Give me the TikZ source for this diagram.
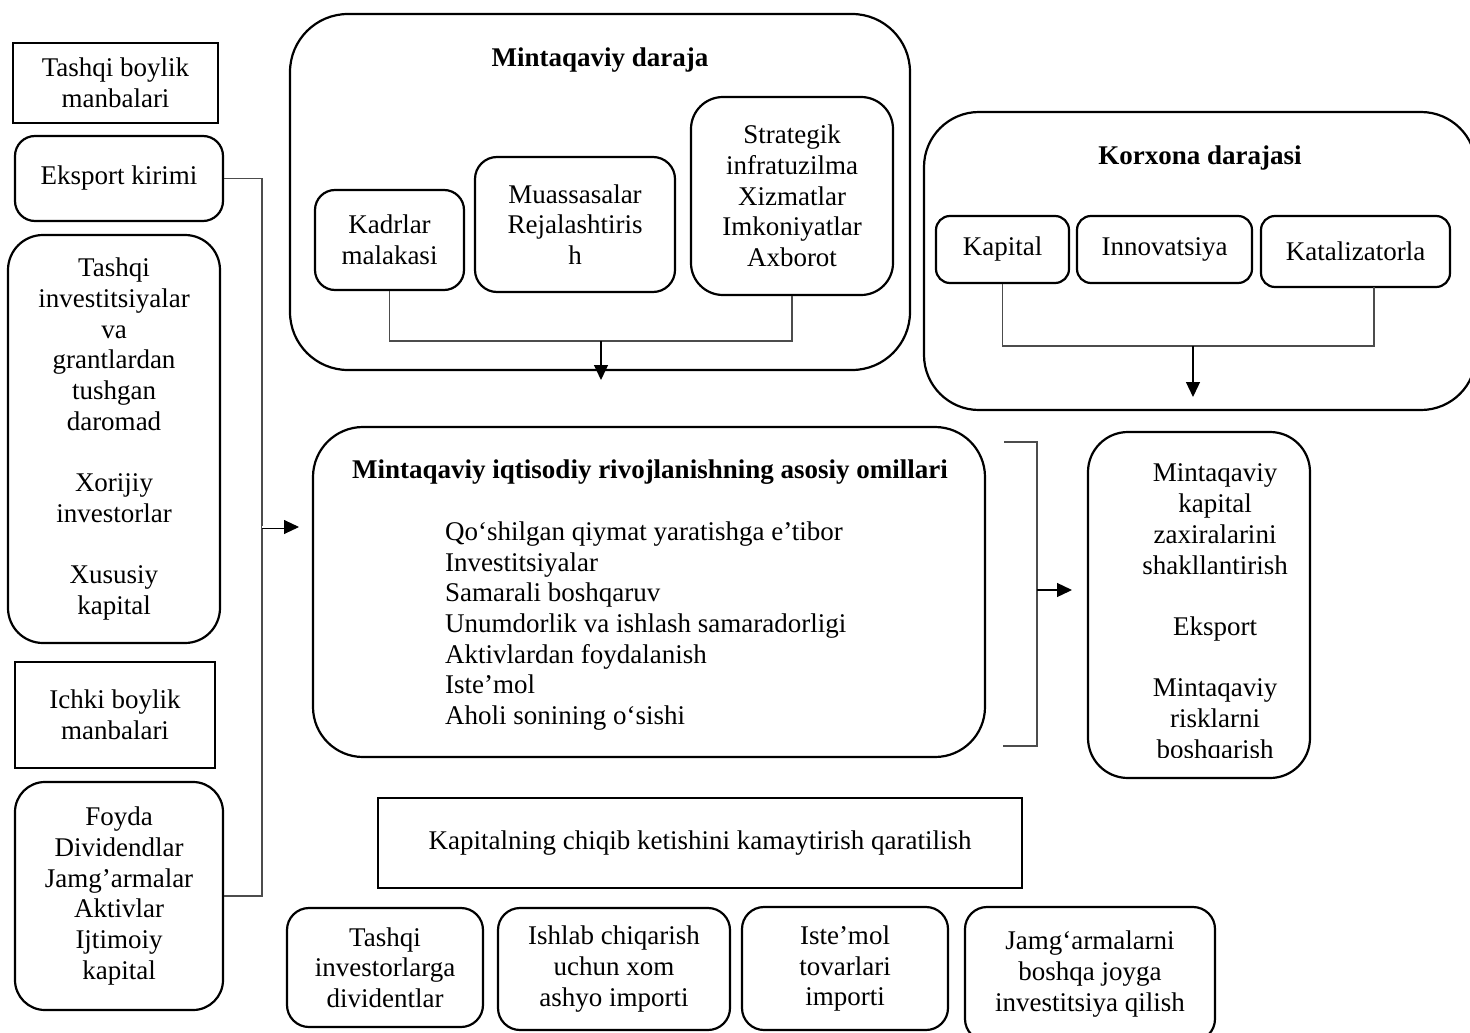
\documentclass[tikz,border=0pt]{standalone}
\usepackage{fontspec}
\setmainfont{Liberation Serif}
\usetikzlibrary{arrows.meta,calc}
\begin{document}
\begin{tikzpicture}[x=1pt,y=-1pt,
  font=\fontsize{27}{30.7}\selectfont,
  bx/.style={draw, line width=2.2pt, align=center, inner sep=0pt},
  rbx/.style={bx, rounded corners=#1},
  txt/.style={align=center, inner sep=0pt},
  ttl/.style={inner sep=0pt, font=\fontsize{27}{30.7}\selectfont\bfseries},
  conn/.style={draw=black!70, line width=1.3pt},
  arr/.style={draw=black, line width=1.3pt, -{Triangle[length=15pt,width=14pt]}},
  dblarr/.style={draw=black, line width=0.9pt, double, double distance=1.2pt, -{Triangle[length=15pt,width=14pt]}}
]
\clip (0,0) rectangle (1470,1033);
\fill[white] (0,0) rectangle (1470,1033);

% left column
\node[bx, line width=2.6pt, minimum width=205pt, minimum height=80pt] (tbm) at (115.5,83) {Tashqi boylik\\manbalari};
\node[rbx=20pt, minimum width=208pt, minimum height=85pt] (eks) at (119,178.5) {Eksport kirimi};
\node[rbx=35pt, minimum width=212pt, minimum height=408pt] (tinv) at (114,439) {Tashqi\\investitsiyalar\\va\\grantlardan\\tushgan\\daromad\\[30.7pt]Xorijiy\\investorlar\\[30.7pt]Xususiy\\kapital};
\node[bx, line width=2.6pt, minimum width=200pt, minimum height=106pt] (ibm) at (115,715) {Ichki boylik\\manbalari};
\node[rbx=30pt, minimum width=208pt, minimum height=228pt] (foyda) at (119,896) {Foyda\\Dividendlar\\Jamg’armalar\\Aktivlar\\Ijtimoiy\\kapital};

% Mintaqaviy daraja
\node[rbx=58pt, minimum width=620pt, minimum height=356pt] (mdar) at (600,192) {};
\node[ttl] (mdtitle) at (600,60) {Mintaqaviy daraja};
\node[rbx=20pt, minimum width=149pt, minimum height=100pt] (kadr) at (389.5,240) {Kadrlar\\malakasi};
\node[rbx=22pt, minimum width=200pt, minimum height=135pt] (muas) at (575,224.5) {Muassasalar\\Rejalashtiris\\h};
\node[rbx=32pt, minimum width=202pt, minimum height=198pt] (strat) at (792,196) {Strategik\\infratuzilma\\Xizmatlar\\Imkoniyatlar\\Axborot};

% Korxona darajasi
\node[rbx=55pt, minimum width=552pt, minimum height=298pt] (kx) at (1200,261) {};
\node[ttl] (kxtitle) at (1200,158) {Korxona darajasi};
\node[rbx=14pt, minimum width=133pt, minimum height=67pt] (kap) at (1002.5,249.5) {Kapital};
\node[rbx=14pt, minimum width=175pt, minimum height=67pt] (inn) at (1164.5,249.5) {Innovatsiya};
\node[rbx=14pt, minimum width=189pt, minimum height=71pt] (kat) at (1355.5,251.5) {Katalizatorla};

% main box
\node[rbx=50pt, minimum width=672pt, minimum height=330pt] (main) at (649,592) {};
\node[ttl] (maintitle) at (650,472) {Mintaqaviy iqtisodiy rivojlanishning asosiy omillari};
\node[align=left, inner sep=0pt, anchor=west] (mainlist) at (445,626) {Qo‘shilgan qiymat yaratishga e’tibor\\Investitsiyalar\\Samarali boshqaruv\\Unumdorlik va ishlash samaradorligi\\Aktivlardan foydalanish\\Iste’mol\\Aholi sonining o‘sishi};

% right box
\node[rbx=40pt, minimum width=222pt, minimum height=346pt] (rbox) at (1199,605) {};
\begin{scope}
\clip (1088,432) rectangle (1310,757);
\node[txt] (rtext) at (1215,614) {Mintaqaviy\\kapital\\zaxiralarini\\shakllantirish\\[30.7pt]Eksport\\[30.7pt]Mintaqaviy\\risklarni\\boshqarish};
\end{scope}

% capital outflow
\node[bx, line width=2pt, minimum width=644pt, minimum height=90pt] (kapch) at (700,843) {Kapitalning chiqib ketishini kamaytirish qaratilish};
\node[rbx=22pt, minimum width=196pt, minimum height=119pt] (b1) at (385,967.5) {Tashqi\\investorlarga\\dividentlar};
\node[rbx=22pt, minimum width=232pt, minimum height=122pt] (b2) at (614,969) {Ishlab chiqarish\\uchun xom\\ashyo importi};
\node[rbx=22pt, minimum width=206pt, minimum height=123pt] (b3) at (845,968.5) {Iste’mol\\tovarlari\\importi};
\node[rbx=22pt, minimum width=250pt, minimum height=134pt] (b4) at (1090,974) {Jamg‘armalarni\\boshqa joyga\\investitsiya qilish};

% left connector
\coordinate (lv1) at (262,178.5);
\coordinate (lv2) at (262,896);
\coordinate (la) at (262,527);
\coordinate (latip) at (299,527);
\draw[conn] (eks.east) -- (lv1) -- (lv2) -- (foyda.east);
\draw[dblarr] (la) -- (latip);

% Mintaqaviy connector
\coordinate (mh) at (601,341);
\coordinate (mtip) at (601,380);
\draw[conn] (kadr.south) -- (kadr.south |- mh) -- (strat.south |- mh) -- (strat.south);
\draw[arr] (mh) -- (mtip);

% Korxona connector
\coordinate (kh) at (1193,346);
\coordinate (ktip) at (1193,397);
\coordinate (katc) at (1374,287);
\draw[conn] (kap.south) -- (kap.south |- kh) -- (katc |- kh) -- (katc);
\draw[arr] (kh) -- (ktip);

% right bracket
\coordinate (br1) at (1004,442);
\coordinate (br2) at (1037,442);
\coordinate (br3) at (1037,746);
\coordinate (br4) at (1003,746);
\coordinate (bra) at (1037,590);
\coordinate (bratip) at (1072,590);
\draw[conn] (br1) -- (br2) -- (br3) -- (br4);
\draw[arr] (bra) -- (bratip);
\end{tikzpicture}
\end{document}
